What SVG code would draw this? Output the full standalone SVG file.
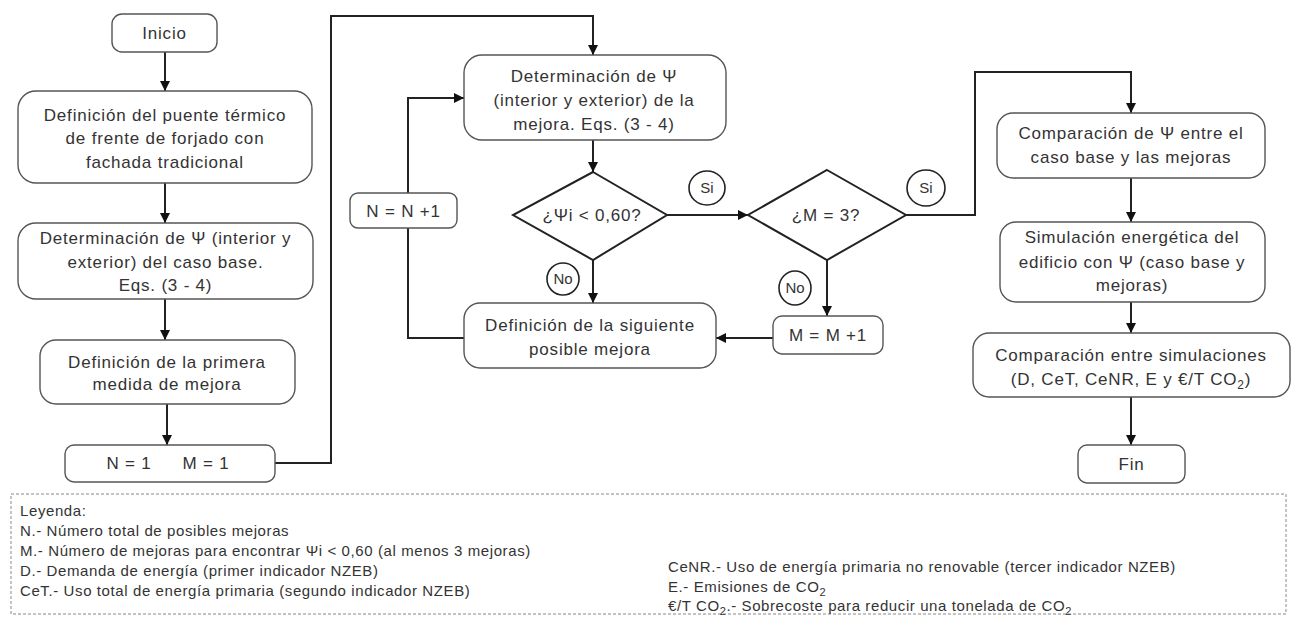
<svg xmlns="http://www.w3.org/2000/svg" width="1293" height="619" viewBox="0 0 1293 619">
<style>
.box{fill:#fff;stroke:#555;stroke-width:1.4}
.dia{fill:#fff;stroke:#222;stroke-width:2}
.t{font-family:"Liberation Sans",Arial,sans-serif;font-size:17px;letter-spacing:0.8px;fill:#333;text-anchor:middle}
.c{fill:#fff;stroke:#222;stroke-width:1.6}
.ct{font-family:"Liberation Sans",Arial,sans-serif;font-size:15px;fill:#333;text-anchor:middle}
.lg{font-family:"Liberation Sans",Arial,sans-serif;font-size:15px;letter-spacing:0.6px;fill:#333}
.ln{fill:none;stroke:#222;stroke-width:2}
</style>
<defs>
<marker id="ah" markerUnits="userSpaceOnUse" markerWidth="10" markerHeight="10" refX="10" refY="5" orient="auto">
<path d="M0,0 L10,5 L0,10 z" fill="#111"/>
</marker>
</defs>
<rect width="1293" height="619" fill="#fff"/>

<g id="connectors">
<path class="ln" d="M165,52 V91" marker-end="url(#ah)"/>
<path class="ln" d="M165,183 V223" marker-end="url(#ah)"/>
<path class="ln" d="M165,299 V340" marker-end="url(#ah)"/>
<path class="ln" d="M167,404 V445" marker-end="url(#ah)"/>
<path class="ln" d="M275,463 H331 V16 H593 V55" marker-end="url(#ah)"/>
<path class="ln" d="M593,140 V172" marker-end="url(#ah)"/>
<path class="ln" d="M667,215 H748" marker-end="url(#ah)"/>
<path class="ln" d="M593,260 V303" marker-end="url(#ah)"/>
<path class="ln" d="M464,338 H408 V228"/>
<path class="ln" d="M408,193 V98 H464" marker-end="url(#ah)"/>
<path class="ln" d="M827,260 V316" marker-end="url(#ah)"/>
<path class="ln" d="M773,338 H716" marker-end="url(#ah)"/>
<path class="ln" d="M906,215 H975 V72 H1131 V113" marker-end="url(#ah)"/>
<path class="ln" d="M1131,178 V222" marker-end="url(#ah)"/>
<path class="ln" d="M1131,302 V333" marker-end="url(#ah)"/>
<path class="ln" d="M1131,397 V445" marker-end="url(#ah)"/>
</g>

<g id="inicio">
<rect class="box" x="112" y="14" width="105" height="38" rx="10"/>
<text class="t" x="164.5" y="39">Inicio</text>
</g>
<g id="definicion-puente">
<rect class="box" x="18" y="91" width="294" height="92" rx="18"/>
<text class="t" x="165" y="121">Definición del puente térmico</text>
<text class="t" x="165" y="144">de frente de forjado con</text>
<text class="t" x="165" y="168">fachada tradicional</text>
</g>
<g id="psi-caso-base">
<rect class="box" x="18" y="223" width="295" height="76" rx="18"/>
<text class="t" x="165.5" y="244">Determinación de Ψ (interior y</text>
<text class="t" x="165.5" y="268">exterior) del caso base.</text>
<text class="t" x="165.5" y="291">Eqs. (3 - 4)</text>
</g>
<g id="primera-mejora">
<rect class="box" x="40" y="340" width="255" height="64" rx="16"/>
<text class="t" x="167" y="368">Definición de la primera</text>
<text class="t" x="167" y="390">medida de mejora</text>
</g>
<g id="n1m1">
<rect class="box" x="65" y="445" width="210" height="37" rx="9"/>
<text class="t" x="129" y="469">N = 1</text>
<text class="t" x="206" y="469">M = 1</text>
</g>
<g id="psi-mejora">
<rect class="box" x="464" y="55" width="262" height="85" rx="18"/>
<text class="t" x="594" y="82">Determinación de Ψ</text>
<text class="t" x="594" y="106">(interior y exterior) de la</text>
<text class="t" x="594" y="130">mejora. Eqs. (3 - 4)</text>
</g>
<g id="decision-psi">
<polygon class="dia" points="593,172 667,215 593,260 513,215"/>
<text class="t" x="592" y="221">¿Ψi &lt; 0,60?</text>
</g>
<g id="si-1">
<ellipse class="c" cx="707" cy="188" rx="18" ry="17"/>
<text class="ct" x="707" y="193">Si</text>
</g>
<g id="no-1">
<ellipse class="c" cx="563" cy="279" rx="16" ry="16"/>
<text class="ct" x="563" y="284">No</text>
</g>
<g id="decision-m">
<polygon class="dia" points="827,170 906,215 827,260 748,215"/>
<text class="t" x="826" y="221">¿M = 3?</text>
</g>
<g id="si-2">
<ellipse class="c" cx="926" cy="188" rx="19" ry="18"/>
<text class="ct" x="926" y="193">Si</text>
</g>
<g id="no-2">
<ellipse class="c" cx="795" cy="288" rx="16" ry="17"/>
<text class="ct" x="795" y="293">No</text>
</g>
<g id="nn1">
<rect class="box" x="350" y="193" width="107" height="35" rx="8"/>
<text class="t" x="403.5" y="217">N = N +1</text>
</g>
<g id="siguiente-mejora">
<rect class="box" x="464" y="303" width="252" height="65" rx="16"/>
<text class="t" x="590" y="331">Definición de la siguiente</text>
<text class="t" x="590" y="355">posible mejora</text>
</g>
<g id="mm1">
<rect class="box" x="773" y="316" width="110" height="38" rx="9"/>
<text class="t" x="828" y="341">M = M +1</text>
</g>
<g id="comparacion-psi">
<rect class="box" x="997" y="113" width="268" height="65" rx="16"/>
<text class="t" x="1131" y="139">Comparación de Ψ entre el</text>
<text class="t" x="1131" y="163">caso base y las mejoras</text>
</g>
<g id="simulacion">
<rect class="box" x="1000" y="222" width="265" height="80" rx="16"/>
<text class="t" x="1132" y="243">Simulación energética del</text>
<text class="t" x="1132" y="268">edificio con Ψ (caso base y</text>
<text class="t" x="1132" y="291">mejoras)</text>
</g>
<g id="comparacion-simulaciones">
<rect class="box" x="973" y="333" width="317" height="64" rx="16"/>
<text class="t" x="1131" y="361">Comparación entre simulaciones</text>
<text class="t" x="1131" y="385">(D, CeT, CeNR, E y €/T CO<tspan font-size="12" dy="4">2</tspan><tspan dy="-4">)</tspan></text>
</g>
<g id="fin">
<rect class="box" x="1078" y="445" width="107" height="38" rx="9"/>
<text class="t" x="1131.5" y="470">Fin</text>
</g>

<g id="leyenda">
<rect x="11" y="494" width="1275" height="120" fill="none" stroke="#888" stroke-width="1" stroke-dasharray="3,2"/>
<text class="lg" x="20" y="516">Leyenda:</text>
<text class="lg" x="20" y="536">N.- Número total de posibles mejoras</text>
<text class="lg" x="20" y="556">M.- Número de mejoras para encontrar Ψi &lt; 0,60 (al menos 3 mejoras)</text>
<text class="lg" x="20" y="576">D.- Demanda de energía (primer indicador NZEB)</text>
<text class="lg" x="20" y="596">CeT.- Uso total de energía primaria (segundo indicador NZEB)</text>
<text class="lg" x="668" y="572">CeNR.- Uso de energía primaria no renovable (tercer indicador NZEB)</text>
<text class="lg" x="668" y="592">E.- Emisiones de CO<tspan font-size="11" dy="4">2</tspan></text>
<text class="lg" x="668" y="611">€/T CO<tspan font-size="11" dy="4">2</tspan><tspan dy="-4">.- Sobrecoste para reducir una tonelada de CO</tspan><tspan font-size="11" dy="4">2</tspan></text>
</g>
</svg>
